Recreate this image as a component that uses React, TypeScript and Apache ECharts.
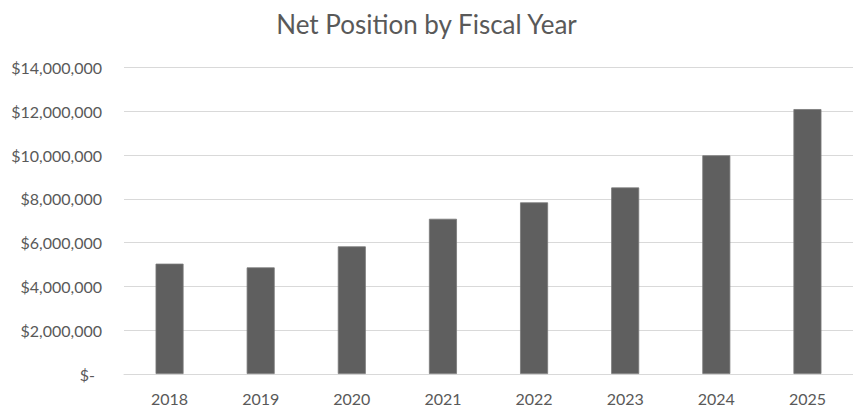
import React, { useEffect, useRef } from "react";
import * as echarts from "echarts";

const title = "Net Position by Fiscal Year";
const years = ["2018", "2019", "2020", "2021", "2022", "2023", "2024", "2025"];
const netPosition = [5040000, 4870000, 5830000, 7090000, 7840000, 8520000, 9990000, 12100000];
const yMax = 14000000;
const yStep = 2000000;

function fmt(v: number): string {
  if (v === 0) return "{z|$-}";
  return "$" + v.toLocaleString("en-US");
}

export default function App() {
  const ref = useRef<HTMLDivElement>(null);
  useEffect(() => {
    if (!ref.current) return;
    const chart = echarts.init(ref.current, null, { renderer: "svg" });
    const font = "Lato, 'Open Sans', sans-serif";
    chart.setOption({
      animation: false,
      backgroundColor: "#ffffff",
      title: {
        text: title,
        left: "center",
        top: 6,
        textStyle: { fontFamily: font, fontSize: 26, fontWeight: "normal", color: "#595959" },
      },
      grid: { left: 124, right: 0, top: 67.5, bottom: 41, containLabel: false },
      xAxis: {
        type: "category",
        data: years,
        axisLine: { show: true, lineStyle: { color: "#d9d9d9", width: 1 } },
        axisTick: { show: false },
        axisLabel: { fontFamily: font, fontSize: 16, color: "#595959", margin: 16 },
      },
      yAxis: {
        type: "value",
        min: 0,
        max: yMax,
        interval: yStep,
        axisLine: { show: false },
        axisTick: { show: false },
        splitLine: { lineStyle: { color: "#d9d9d9", width: 1 } },
        axisLabel: {
          fontFamily: font,
          fontSize: 16,
          color: "#595959",
          margin: 22,
          formatter: fmt,
          rich: { z: { fontFamily: font, fontSize: 16, color: "#595959", padding: [0, 7, 0, 0] } },
        },
      },
      series: [
        {
          type: "bar",
          data: netPosition,
          barWidth: 28,
          itemStyle: { color: "#5f5f5f", borderColor: "#7a7a7a", borderWidth: 0.8 },
        },
      ],
    });
    return () => chart.dispose();
  }, []);
  return (
    <div
      ref={ref}
      style={{ position: "fixed", left: 0, top: 0, width: 853, height: 415 }}
    />
  );
}
